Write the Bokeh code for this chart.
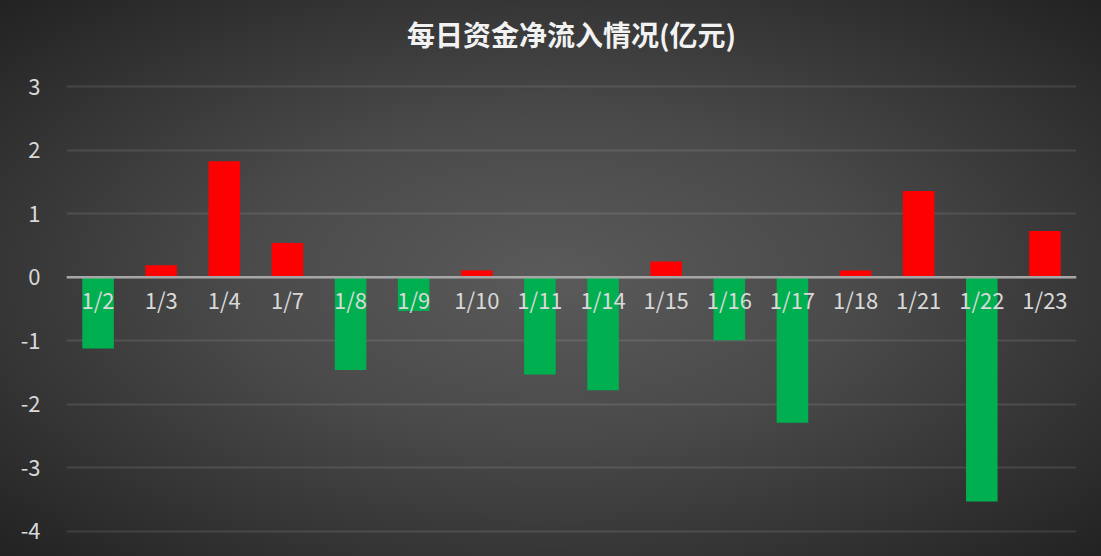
from bokeh.plotting import figure
from bokeh.models import FactorRange, Range1d, Span, FixedTicker, ColumnDataSource, PrintfTickFormatter
from bokeh.core.properties import value
from bokeh.embed import file_html
from bokeh.resources import INLINE

# ---- data ----
dates = ["1/2", "1/3", "1/4", "1/7", "1/8", "1/9", "1/10", "1/11",
         "1/14", "1/15", "1/16", "1/17", "1/18", "1/21", "1/22", "1/23"]
net_inflow = [-1.12, 0.19, 1.83, 0.54, -1.46, -0.53, 0.11, -1.53,
              -1.78, 0.25, -0.99, -2.29, 0.11, 1.36, -3.53, 0.73]
y_ticks = [-4, -3, -2, -1, 0, 1, 2, 3]
title_text = "每日资金净流入情况(亿元)"

RED = "#ff0000"
GREEN = "#00b050"
FONT = "Noto Sans CJK SC"

bar_colors = [RED if v >= 0 else GREEN for v in net_inflow]
baseline = [0] * len(dates)

source = ColumnDataSource(dict(date=dates, val=net_inflow, color=bar_colors, base=baseline))

p = figure(
    width=1101, height=556,
    x_range=FactorRange(factors=dates, range_padding=0),
    y_range=Range1d(-4.146, 3.354),
    output_backend="svg", toolbar_location=None,
    min_border_left=66, min_border_right=25, min_border_top=64, min_border_bottom=16,
)

p.background_fill_color = None
p.border_fill_color = None
p.outline_line_color = None
p.styles = {"background": "radial-gradient(ellipse farthest-corner at 50% 50%, "
                          "#5a5a5a 0%, #4a4a4a 40%, #222222 100%)"}

# title
p.title.text = title_text
p.title.align = "center"
p.title.text_font = FONT
p.title.text_font_size = "28px"
p.title.text_font_style = "bold"
p.title.text_color = "#f2f2f2"
p.title.standoff = 21

# axes
p.xaxis.visible = False
p.yaxis.ticker = FixedTicker(ticks=y_ticks)
p.yaxis.formatter = PrintfTickFormatter(format="%d")
p.yaxis.axis_line_color = None
p.yaxis.major_tick_line_color = None
p.yaxis.minor_tick_line_color = None
p.yaxis.major_label_text_color = "#d9d9d9"
p.yaxis.major_label_text_font = FONT
p.yaxis.major_label_text_font_size = "22px"
p.yaxis.major_label_standoff = 20

p.xgrid.grid_line_color = None
p.ygrid.ticker = FixedTicker(ticks=y_ticks)
p.ygrid.grid_line_color = "#ffffff"
p.ygrid.grid_line_alpha = 0.1
p.ygrid.grid_line_width = 2

# bars
p.vbar(x="date", top="val", bottom="base", width=0.5, fill_color="color",
       line_color=None, source=source)

# zero axis line
p.add_layout(Span(location=0, dimension="width", line_color="#a6a6a6", line_width=2.5))

# category labels at the zero line
p.text(x="date", y="base", text="date", source=source,
       text_align="center", text_baseline="middle", y_offset=22,
       text_color="#d9d9d9", text_font=value(FONT), text_font_size="22px")

open("out.html", "w").write(file_html(p, INLINE))
